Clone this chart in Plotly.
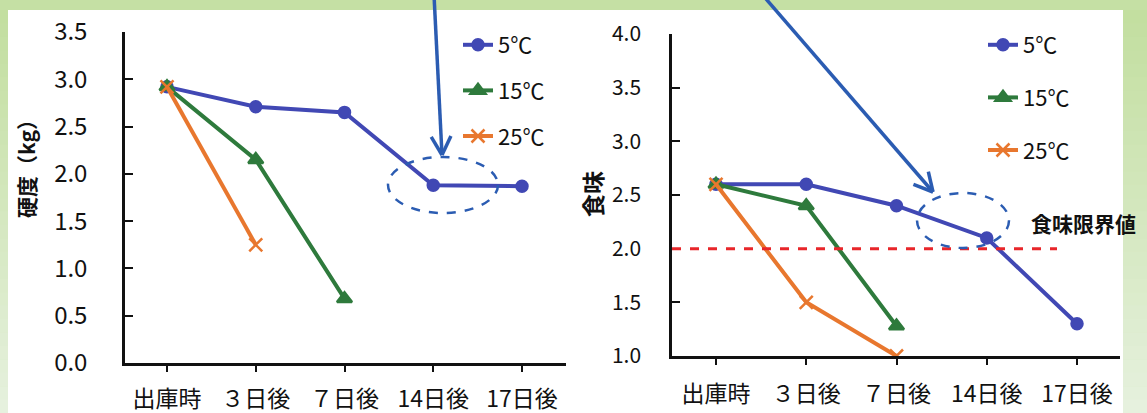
import math
import plotly.graph_objects as go

# ---------------- data ----------------
categories = ["出庫時", "３日後", "７日後", "14日後", "17日後"]
series_names = ["5℃", "15℃", "25℃"]
hardness_5 = [2.92, 2.71, 2.65, 1.88, 1.87]
hardness_15 = [2.92, 2.15, 0.68]
hardness_25 = [2.92, 1.25]
taste_5 = [2.6, 2.6, 2.4, 2.1, 1.3]
taste_15 = [2.6, 2.4, 1.28]
taste_25 = [2.6, 1.5, 1.0]
taste_limit = 2.0
hard_ticks = [0.0, 0.5, 1.0, 1.5, 2.0, 2.5, 3.0, 3.5]
taste_ticks = [1.0, 1.5, 2.0, 2.5, 3.0, 3.5, 4.0]
left_title = "硬度（kg）"
right_title = "食味"
limit_label = "食味限界値"

# ---------------- styles ----------------
W, H = 1147, 413
def X(px):
    return px / W
def Y(py):
    return 1 - py / H

FONT = "Noto Sans CJK JP"
BLUE = "#4148b4"
GREEN = "#2e7a3c"
ORANGE = "#e8772e"
RED = "#e8262a"
ARROW = "#2b5cb2"
styles = [
    dict(color=BLUE, symbol="circle", size=11),
    dict(color=GREEN, symbol="triangle-up", size=13),
    dict(color=ORANGE, symbol="x-thin-open", size=13),
]

fig = go.Figure()

left_data = [hardness_5, hardness_15, hardness_25]
right_data = [taste_5, taste_15, taste_25]

for i, (name, vals) in enumerate(zip(series_names, left_data)):
    st = styles[i]
    fig.add_trace(go.Scatter(
        x=categories[:len(vals)], y=vals, name=name, xaxis="x", yaxis="y",
        mode="lines+markers", legend="legend", legendgroup="L" + str(i),
        line=dict(color=st["color"], width=4),
        marker=dict(color=st["color"], symbol=st["symbol"], size=st["size"],
                    line=dict(color=st["color"], width=2.5)),
    ))
for i, (name, vals) in enumerate(zip(series_names, right_data)):
    st = styles[i]
    fig.add_trace(go.Scatter(
        x=categories[:len(vals)], y=vals, name=name, xaxis="x2", yaxis="y2",
        mode="lines+markers", legend="legend2", legendgroup="R" + str(i),
        line=dict(color=st["color"], width=4),
        marker=dict(color=st["color"], symbol=st["symbol"], size=st["size"],
                    line=dict(color=st["color"], width=2.5)),
    ))

# geometry
L_dom_x = [X(125), X(566)]
L_dom_y = [Y(363), Y(32)]
R_dom_x = [X(672), X(1120)]
R_dom_y = [Y(356), Y(34)]
L_xr = [(125 - 167) / 88.75, (566 - 167) / 88.75]
R_xr = [(672 - 716) / 90.25, (1120 - 716) / 90.25]

def xaxis_main(dom, rng, anchor, size, standoff):
    return dict(domain=dom, range=rng, type="category", categoryorder="array",
                categoryarray=categories, anchor=anchor, showline=True,
                linecolor="#111", linewidth=2.5, ticks="outside", ticklen=6,
                tickwidth=2, tickcolor="#111", showgrid=False, zeroline=False,
                tickfont=dict(family=FONT, size=size, color="#111"),
                ticklabelstandoff=standoff, automargin=False, fixedrange=True)

def xaxis_overlay(dom, rng, anchor, over):
    return dict(domain=dom, range=rng, type="linear", anchor=anchor,
                overlaying=over, showline=False, ticks="inside", ticklen=6,
                tickwidth=2, tickcolor="#111", tickmode="array",
                tickvals=list(range(len(categories))) + [rng[1] - 0.005],
                showticklabels=False, showgrid=False, zeroline=False,
                automargin=False)

fig.update_layout(
    template="none",
    width=W, height=H, autosize=False,
    margin=dict(l=0, r=0, t=0, b=0, pad=0),
    paper_bgcolor="#c5e0a4", plot_bgcolor="rgba(0,0,0,0)",
    font=dict(family=FONT, color="#111"),
    xaxis=xaxis_main(L_dom_x, L_xr, "y", 23, 8),
    xaxis2=xaxis_main(R_dom_x, R_xr, "y2", 23, 10),
    xaxis3=xaxis_overlay(L_dom_x, L_xr, "y", "x"),
    xaxis4=xaxis_overlay(R_dom_x, R_xr, "y2", "x2"),
    yaxis=dict(domain=L_dom_y, range=[0, 3.5], anchor="x", showline=True,
               linecolor="#111", linewidth=2.5, ticks="inside", ticklen=8,
               tickwidth=2, tickcolor="#111", tickmode="array",
               tickvals=hard_ticks, ticktext=[f"{v:.1f}" for v in hard_ticks],
               tickfont=dict(family=FONT, size=24, color="#111"),
               ticklabelstandoff=30, showgrid=False, zeroline=False,
               automargin=False),
    yaxis2=dict(domain=R_dom_y, range=[1, 4], anchor="x2", showline=True,
                linecolor="#111", linewidth=2.5, ticks="inside", ticklen=8,
                tickwidth=2, tickcolor="#111", tickmode="array",
                tickvals=taste_ticks, ticktext=[f"{v:.1f}" for v in taste_ticks],
                tickfont=dict(family=FONT, size=21, color="#111"),
                ticklabelstandoff=24, showgrid=False, zeroline=False,
                automargin=False),
    legend=dict(x=X(458), y=Y(24), xanchor="left", yanchor="top",
                bgcolor="rgba(0,0,0,0)", font=dict(family=FONT, size=22, color="#111"),
                tracegroupgap=14, itemwidth=30),
    legend2=dict(x=X(983), y=Y(24), xanchor="left", yanchor="top",
                 bgcolor="rgba(0,0,0,0)", font=dict(family=FONT, size=22, color="#111"),
                 tracegroupgap=21, itemwidth=30),
    showlegend=True,
)

shapes = []
# white panel
shapes.append(dict(type="rect", xref="paper", yref="paper", x0=X(8), x1=X(1123),
                   y0=Y(413), y1=Y(10), fillcolor="white", line=dict(width=0), layer="below"))
# gradient side strips
n = 30
c0 = (195, 223, 160)
c1 = (230, 241, 222)
for k in range(n):
    t = k / (n - 1)
    c = tuple(int(c0[j] + (c1[j] - c0[j]) * t) for j in range(3))
    col = "rgb(%d,%d,%d)" % c
    ya = 10 + (H - 10) * k / n
    yb = 10 + (H - 10) * (k + 1) / n
    for xa, xb in [(0, 8), (1123, W)]:
        shapes.append(dict(type="rect", xref="paper", yref="paper", x0=X(xa), x1=X(xb),
                           y0=Y(yb + 0.5), y1=Y(ya), fillcolor=col, line=dict(width=0),
                           layer="below"))
# red limit line
shapes.append(dict(type="line", xref="paper", yref="y2", x0=X(672), x1=X(1057),
                   y0=taste_limit, y1=taste_limit, line=dict(color=RED, width=3, dash="dash")))
# dashed ellipses
shapes.append(dict(type="circle", xref="paper", yref="paper", x0=X(388), x1=X(498),
                   y0=Y(213), y1=Y(157), line=dict(color=ARROW, width=2.5, dash="dash")))
shapes.append(dict(type="circle", xref="paper", yref="paper", x0=X(917), x1=X(1009),
                   y0=Y(248), y1=Y(193), line=dict(color=ARROW, width=2.5, dash="dash")))

# arrows (line + open V head)
def arrow(tail, tip, head=21, ang=28):
    dx, dy = tip[0] - tail[0], tip[1] - tail[1]
    d = math.hypot(dx, dy)
    ux, uy = dx / d, dy / d
    out = [dict(type="line", xref="paper", yref="paper", x0=X(tail[0]), y0=Y(tail[1]),
                x1=X(tip[0]), y1=Y(tip[1]), line=dict(color=ARROW, width=3.5))]
    for s in (-1, 1):
        a = math.radians(ang) * s
        wx = -(ux * math.cos(a) - uy * math.sin(a)) * head
        wy = -(ux * math.sin(a) + uy * math.cos(a)) * head
        out.append(dict(type="line", xref="paper", yref="paper", x0=X(tip[0]), y0=Y(tip[1]),
                        x1=X(tip[0] + wx), y1=Y(tip[1] + wy), line=dict(color=ARROW, width=3.5)))
    return out

shapes += arrow((434, -5), (442, 155))
shapes += arrow((760, -8), (933, 192))

annotations = [
    dict(text="<b>" + left_title + "</b>", x=X(26), y=Y(164), xref="paper", yref="paper",
         showarrow=False, xanchor="center", yanchor="middle",
         textangle=-90, font=dict(family=FONT, size=21, color="#111")),
    dict(text="<b>" + right_title + "</b>", x=X(592), y=Y(194), xref="paper", yref="paper",
         showarrow=False, xanchor="center", yanchor="middle",
         textangle=-90, font=dict(family=FONT, size=23, color="#111")),
    dict(text="<b>" + limit_label + "</b>", x=X(1083), y=Y(223), xref="paper", yref="paper",
         showarrow=False, xanchor="center", yanchor="middle",
         font=dict(family=FONT, size=21, color="#111")),
]
fig.update_layout(shapes=shapes, annotations=annotations)

fig.write_html("out.html", config={"displayModeBar": False},
               post_script="document.body.style.margin='0';document.body.style.overflow='hidden';")
